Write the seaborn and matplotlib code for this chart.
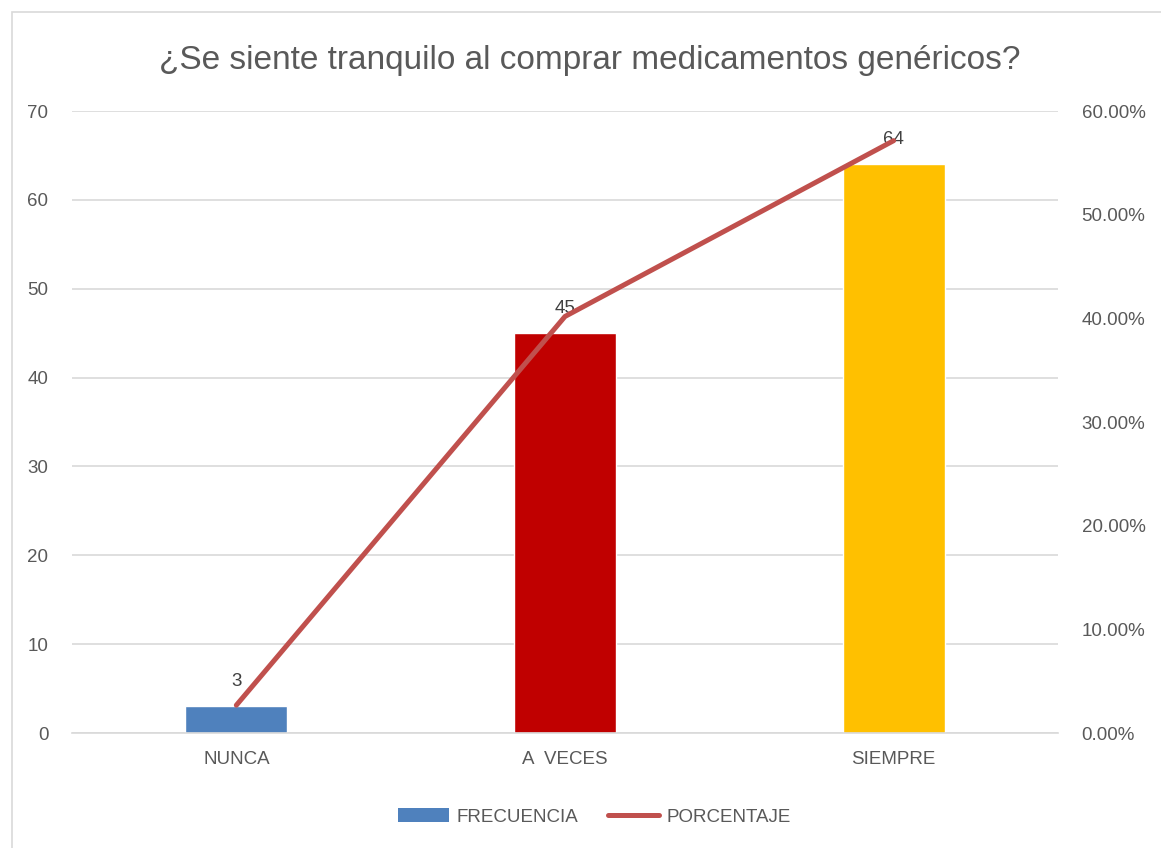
import matplotlib
matplotlib.use("Agg")
import matplotlib.pyplot as plt
import seaborn as sns
import pandas as pd
from matplotlib.patches import Rectangle, Patch
from matplotlib.lines import Line2D
from matplotlib.ticker import FuncFormatter

categories = ["NUNCA", "A  VECES", "SIEMPRE"]
frecuencia = [3, 45, 64]
porcentaje = [0.0268, 0.4018, 0.5714]
bar_colors = ["#4F81BD", "#C00000", "#FFC000"]

sns.set_theme(style="white")
plt.rcParams['font.family'] = ['Liberation Sans', 'DejaVu Sans']

df = pd.DataFrame({"cat": categories, "frec": frecuencia, "pct": porcentaje})

fig = plt.figure(figsize=(11.61, 8.48), dpi=100)
fig.patches.append(Rectangle((12/1161, -0.01), 1.02, 1 - 12/848 + 0.01, transform=fig.transFigure,
                             fill=False, edgecolor="#D9D9D9", linewidth=1.2))
ax = fig.add_axes([72/1161, 1 - 733/848, (1058-72)/1161, (733-111)/848])

sns.barplot(data=df, x="cat", y="frec", hue="cat", palette=bar_colors, width=0.31,
            legend=False, ax=ax, saturation=1)
ax.set_xlim(-0.5, 2.5)
ax.set_ylim(0, 70)
ax.set_yticks(range(0, 71, 10))
ax.yaxis.grid(True, color="#D9D9D9", linewidth=1.2)
ax.set_axisbelow(True)
for s in ax.spines.values():
    s.set_visible(False)
ax.spines["bottom"].set_visible(True)
ax.spines["bottom"].set_color("#D9D9D9")
ax.spines["bottom"].set_linewidth(1.2)
ax.set_xlabel("")
ax.set_ylabel("")
ax.tick_params(axis="both", length=0, labelsize=13.5, colors="#595959")
ax.tick_params(axis="x", pad=13)
ax.tick_params(axis="y", pad=17)

for i, v in enumerate(frecuencia):
    ax.annotate(str(v), (i, v), xytext=(0, 18), textcoords="offset points", ha="center", va="center",
                fontsize=13.5, color="#404040")

ax2 = ax.twinx()
sns.lineplot(x=[0, 1, 2], y=porcentaje, ax=ax2, color="#C0504D", linewidth=3.6, solid_capstyle="round")
ax2.set_ylim(0, 0.6)
ax2.set_yticks([i / 10 for i in range(7)])
ax2.yaxis.set_major_formatter(FuncFormatter(lambda v, p: f"{v*100:.2f}%"))
ax2.tick_params(axis="y", length=0, labelsize=13.5, colors="#595959", pad=17)
for s in ax2.spines.values():
    s.set_visible(False)
ax2.set_ylabel("")

fig.text(0.508, 1 - 60/848, "¿Se siente tranquilo al comprar medicamentos genéricos?", ha="center", va="center",
         fontsize=24, color="#595959")

handles = [Patch(facecolor="#4F81BD", edgecolor="none"),
           Line2D([0], [0], color="#C0504D", linewidth=3.6, solid_capstyle="round")]
fig.legend(handles, ["FRECUENCIA", "PORCENTAJE"], loc="center", bbox_to_anchor=(0.512, 1 - 817/848),
           ncol=2, frameon=False, fontsize=13.5, labelcolor="#595959", handlelength=2.7,
           handletextpad=0.4, columnspacing=1.6)

fig.savefig("out.png", dpi=100)
